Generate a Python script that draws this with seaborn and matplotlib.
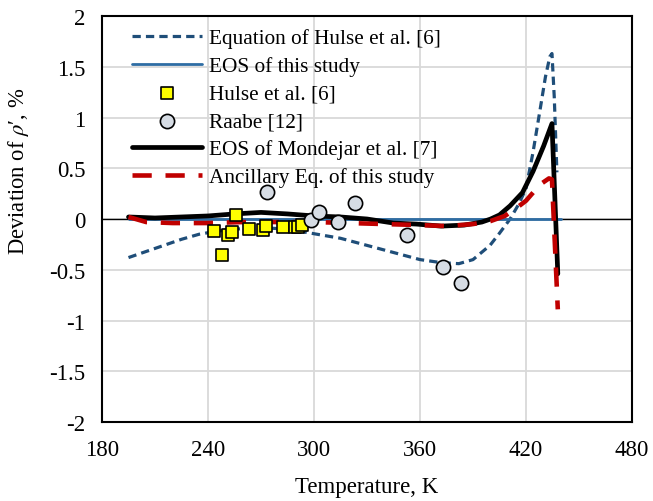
import numpy as np
import pandas as pd
import matplotlib
matplotlib.use("Agg")
import matplotlib.pyplot as plt
import seaborn as sns

# ---- data ----
hulse_eq_T = [195, 210, 225, 235, 245, 255, 265, 275, 285, 295, 305, 315, 330, 345, 360, 372,
              382, 390, 399.6, 405, 411, 416, 420, 424, 428, 431, 433.5, 434.7, 436, 437.5]
hulse_eq_y = [-0.38, -0.29, -0.2, -0.15, -0.12, -0.10, -0.09, -0.09, -0.10, -0.13, -0.16, -0.19,
              -0.26, -0.33, -0.40, -0.43, -0.44, -0.40, -0.26, -0.14, 0.0, 0.15, 0.30, 0.66,
              1.08, 1.40, 1.60, 1.63, 1.2, 0.46]

eos_T = [195, 440]
eos_y = [0.0, 0.0]

hulse_T = [255.7, 243.4, 251.5, 253.4, 247.7, 263.2, 270.9, 272.8, 282.6, 289.2, 291.0, 293.0]
hulse_y = [0.04, -0.12, -0.16, -0.13, -0.35, -0.10, -0.11, -0.07, -0.08, -0.075, -0.08, -0.06]

raabe_T = [273.2, 298.1, 303.0, 313.4, 323.2, 352.8, 372.8, 383.0]
raabe_y = [0.27, -0.01, 0.07, -0.03, 0.16, -0.16, -0.47, -0.63]

mond_T = [195, 210, 225, 240, 255, 270, 285, 300, 315, 330, 345, 358, 372, 385, 395, 400,
          405, 411, 418, 424, 430, 434.7, 438]
mond_y = [0.02, 0.01, 0.02, 0.03, 0.05, 0.065, 0.05, 0.03, 0.02, 0.0, -0.04, -0.05, -0.07,
          -0.06, -0.03, 0.0, 0.04, 0.13, 0.26, 0.47, 0.72, 0.94, -0.54]

anc_T = [195, 205, 220, 240, 260, 280, 300, 320, 340, 360, 375, 390, 400, 408, 414, 420,
         428, 433, 434.7, 438]
anc_y = [0.02, -0.03, -0.04, -0.04, -0.03, -0.03, -0.03, -0.04, -0.05, -0.06, -0.07, -0.05,
         -0.02, 0.03, 0.10, 0.18, 0.34, 0.40, 0.39, -0.89]

labels = ["Equation of Hulse et al. [6]", "EOS of this study", "Hulse et al. [6]",
          "Raabe [12]", "EOS of Mondejar et al. [7]", "Ancillary Eq. of this study"]
xticks = [180, 240, 300, 360, 420, 480]
yticks = [-2, -1.5, -1, -0.5, 0, 0.5, 1, 1.5, 2]

# ---- style ----
sns.set_theme(style="white")
plt.rcParams["font.family"] = ["Liberation Serif", "DejaVu Serif"]
plt.rcParams["mathtext.fontset"] = "stix"

fig = plt.figure(figsize=(6.53, 5.02), dpi=100)
ax = fig.add_axes([102 / 653, 1 - 423 / 502, 530 / 653, 406 / 502])

ax.grid(True, color="#D9D9D9", linewidth=1.3, zorder=0)
ax.set_axisbelow(True)
ax.axhline(0, color="black", linewidth=1.0, zorder=1)

df_h = pd.DataFrame({"T": hulse_eq_T, "y": hulse_eq_y})
sns.lineplot(data=df_h, x="T", y="y", ax=ax, color="#1F4E79", linewidth=2.3,
             dashes=False, sort=False, label=labels[0], zorder=2)
ax.lines[-1].set_dashes((2.6, 1.6))

df_e = pd.DataFrame({"T": eos_T, "y": eos_y})
sns.lineplot(data=df_e, x="T", y="y", ax=ax, color="#2E6DA4", linewidth=2.0,
             sort=False, label=labels[1], zorder=3)

df_m = pd.DataFrame({"T": mond_T, "y": mond_y})
df_a = pd.DataFrame({"T": anc_T, "y": anc_y})

df_sq = pd.DataFrame({"T": hulse_T, "y": hulse_y})
df_ci = pd.DataFrame({"T": raabe_T, "y": raabe_y})

sns.scatterplot(data=df_sq, x="T", y="y", ax=ax, marker="s", s=85, color="#FFFF00",
                edgecolor="black", linewidth=1.2, label=labels[2], zorder=6)
sns.scatterplot(data=df_ci, x="T", y="y", ax=ax, marker="o", s=105, color="#D6DCE4",
                edgecolor="black", linewidth=1.2, label=labels[3], zorder=7)

sns.lineplot(data=df_m, x="T", y="y", ax=ax, color="black", linewidth=3.4,
             sort=False, label=labels[4], zorder=4)
sns.lineplot(data=df_a, x="T", y="y", ax=ax, color="#C00000", linewidth=3.3,
             sort=False, label=labels[5], zorder=5)
ax.lines[-1].set_dashes((4.2, 3.0))

ax.set_xlim(180, 480)
ax.set_ylim(-2, 2)
ax.set_xticks(xticks)
ax.set_xticklabels([str(t) for t in xticks])
ax.set_yticks(yticks)
ax.set_yticklabels([("%g" % t) for t in yticks])
ax.tick_params(axis="both", length=0, labelsize=16.5, colors="black")
ax.tick_params(axis="x", pad=12)
ax.tick_params(axis="y", pad=12)

for sp in ax.spines.values():
    sp.set_color("black")
    sp.set_linewidth(1.5)

ax.set_xlabel("Temperature, K", fontsize=16.5, color="black", labelpad=12)
ax.set_ylabel("Deviation of $\\rho$\u2032, %", fontsize=16.3, color="black", labelpad=11)
ax.yaxis.set_label_coords(-0.134, 0.62)

handles, labs = ax.get_legend_handles_labels()
order = [labs.index(l) for l in labels]
leg = ax.legend([handles[i] for i in order], [labs[i] for i in order],
                loc="upper left", bbox_to_anchor=(0.04, 0.99), frameon=False,
                fontsize=15.3, handlelength=3.3, handletextpad=0.35,
                labelspacing=0.37, borderaxespad=0.0)
for t in leg.get_texts():
    t.set_color("black")

fig.savefig("out.png", dpi=100)
